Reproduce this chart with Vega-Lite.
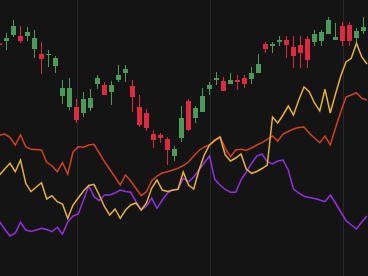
{
  "$schema": "https://vega.github.io/schema/vega-lite/v6.json",
  "width": 368,
  "height": 276,
  "padding": 0,
  "autosize": {"type": "none"},
  "background": "#141414",
  "config": {"view": {"stroke": null}},
  "datasets": {
    "grid": [{"t": 11.14}, {"t": 30.14}, {"t": 49.14}],
    "candles": [
      {"t":0,"open":232.5,"close":231,"high":232.5,"low":231},
      {"t":1,"open":235,"close":238,"high":243,"low":226},
      {"t":2,"open":241,"close":250,"high":256,"low":239},
      {"t":3,"open":240,"close":235,"high":250,"low":233},
      {"t":4,"open":240,"close":244,"high":249,"low":235},
      {"t":5,"open":227,"close":238,"high":246,"low":218},
      {"t":6,"open":222,"close":217,"high":234,"low":202},
      {"t":7,"open":221,"close":222,"high":226,"low":209},
      {"t":8,"open":210,"close":218,"high":220,"low":203},
      {"t":9,"open":180,"close":188,"high":196,"low":172},
      {"t":10,"open":169,"close":188,"high":198,"low":166},
      {"t":11,"open":169,"close":156,"high":177,"low":153},
      {"t":12,"open":163,"close":177,"high":184,"low":159},
      {"t":13,"open":168,"close":178,"high":187,"low":165},
      {"t":14,"open":192,"close":198,"high":201,"low":187},
      {"t":15,"open":191,"close":181,"high":194,"low":181},
      {"t":16,"open":184,"close":191,"high":195,"low":171},
      {"t":17,"open":196,"close":201,"high":211,"low":194},
      {"t":18,"open":203,"close":207,"high":211,"low":194},
      {"t":19,"open":190,"close":179,"high":196,"low":164},
      {"t":20,"open":169,"close":151,"high":181,"low":149},
      {"t":21,"open":163,"close":148,"high":167,"low":145},
      {"t":22,"open":142,"close":136,"high":146,"low":128},
      {"t":23,"open":141,"close":138,"high":143,"low":133},
      {"t":24,"open":137,"close":126,"high":139,"low":111},
      {"t":25,"open":120,"close":127,"high":130,"low":115},
      {"t":26,"open":138,"close":158,"high":170,"low":134},
      {"t":27,"open":175,"close":146,"high":177,"low":145},
      {"t":28,"open":158,"close":168,"high":170,"low":153},
      {"t":29,"open":164,"close":180,"high":188,"low":164},
      {"t":30,"open":187,"close":191,"high":194,"low":181},
      {"t":31,"open":196,"close":198,"high":204,"low":191},
      {"t":32,"open":195,"close":185,"high":199,"low":185},
      {"t":33,"open":192,"close":196,"high":203,"low":192},
      {"t":34,"open":196,"close":194,"high":201,"low":186},
      {"t":35,"open":198,"close":192,"high":201,"low":188},
      {"t":36,"open":197,"close":203,"high":209,"low":192},
      {"t":37,"open":203,"close":212,"high":222,"low":203},
      {"t":38,"open":232,"close":227,"high":234,"low":223},
      {"t":39,"open":230,"close":232,"high":234,"low":223},
      {"t":40,"open":234,"close":236,"high":240,"low":230},
      {"t":41,"open":236,"close":231,"high":240,"low":218},
      {"t":42,"open":229,"close":220,"high":240,"low":208},
      {"t":43,"open":231,"close":223,"high":240,"low":208},
      {"t":44,"open":237,"close":216,"high":240,"low":208},
      {"t":45,"open":234,"close":242,"high":246,"low":230},
      {"t":46,"open":235,"close":244,"high":246,"low":230},
      {"t":47,"open":242,"close":256,"high":259,"low":242},
      {"t":48,"open":236,"close":239,"high":253,"low":236},
      {"t":49,"open":250,"close":235,"high":254,"low":230},
      {"t":50,"open":251,"close":235,"high":254,"low":230},
      {"t":51,"open":238,"close":245,"high":248,"low":233},
      {"t":52,"open":245,"close":249,"high":259,"low":242}
    ],
    "lines": [
      {"t":0,"a":141,"b":101,"c":54.3},
      {"t":0.75,"a":142,"b":107,"c":46.7},
      {"t":1.5,"a":138.7,"b":112.7,"c":40},
      {"t":2.25,"a":131,"b":104.3,"c":43},
      {"t":3,"a":141,"b":116,"c":53.7},
      {"t":3.75,"a":129.3,"b":92.7,"c":46},
      {"t":4.5,"a":126.7,"b":84.3,"c":44.5},
      {"t":5.25,"a":126.5,"b":89,"c":46},
      {"t":6,"a":126,"b":93.3,"c":47.7},
      {"t":6.75,"a":113.7,"b":77,"c":46.5},
      {"t":7.5,"a":110.3,"b":80.3,"c":44.3},
      {"t":8.25,"a":104.3,"b":74.3,"c":48.7},
      {"t":9,"a":113.3,"b":72,"c":42},
      {"t":9.75,"a":101.7,"b":57.7,"c":54},
      {"t":10.5,"a":124,"b":71,"c":60},
      {"t":11.25,"a":129.3,"b":78,"c":62},
      {"t":12,"a":128.7,"b":85,"c":76},
      {"t":12.75,"a":131,"b":90.5,"c":90},
      {"t":13.5,"a":131.7,"b":91.7,"c":79.3},
      {"t":14.25,"a":123,"b":81,"c":75.3},
      {"t":15,"a":114.3,"b":69.3,"c":81},
      {"t":15.75,"a":106.7,"b":61,"c":81},
      {"t":16.5,"a":99,"b":67,"c":83},
      {"t":17.25,"a":91,"b":57.7,"c":86},
      {"t":18,"a":101,"b":66,"c":84.5},
      {"t":18.75,"a":95,"b":71,"c":83.7},
      {"t":19.5,"a":87.7,"b":73,"c":74.3},
      {"t":20.25,"a":80.3,"b":66,"c":66},
      {"t":21,"a":84.3,"b":73,"c":70},
      {"t":21.75,"a":95.3,"b":88,"c":77.7},
      {"t":22.5,"a":100,"b":96,"c":67.7},
      {"t":23.25,"a":103,"b":86,"c":76},
      {"t":24,"a":104.3,"b":84.5,"c":83},
      {"t":24.75,"a":106,"b":86,"c":86},
      {"t":25.5,"a":107.7,"b":86.7,"c":86.7},
      {"t":26.25,"a":110.5,"b":104,"c":97.7},
      {"t":27,"a":114,"b":91,"c":94.3},
      {"t":27.75,"a":120,"b":87,"c":99},
      {"t":28.5,"a":125.5,"b":106,"c":106},
      {"t":29.25,"a":129,"b":121,"c":113},
      {"t":30,"a":131,"b":131,"c":120},
      {"t":30.75,"a":135,"b":136,"c":96.7},
      {"t":31.5,"a":139.3,"b":139,"c":91},
      {"t":32.25,"a":127.7,"b":121,"c":86.5},
      {"t":33,"a":119.3,"b":115,"c":83.7},
      {"t":33.75,"a":126,"b":118,"c":83.7},
      {"t":34.5,"a":126.7,"b":122,"c":96},
      {"t":35.25,"a":125.5,"b":107,"c":104},
      {"t":36,"a":128,"b":102.7,"c":112.7},
      {"t":36.75,"a":131,"b":104.5,"c":120},
      {"t":37.5,"a":133.3,"b":107.5,"c":122},
      {"t":38.25,"a":136.7,"b":111,"c":114.3},
      {"t":39,"a":140,"b":159,"c":112},
      {"t":39.75,"a":135,"b":153,"c":115},
      {"t":40.5,"a":142,"b":161,"c":116},
      {"t":41.25,"a":144.5,"b":170,"c":106},
      {"t":42,"a":147,"b":161,"c":87},
      {"t":42.75,"a":148.5,"b":176,"c":83},
      {"t":43.5,"a":149,"b":189,"c":79.7},
      {"t":44.25,"a":142.7,"b":184.3,"c":78.5},
      {"t":45,"a":138,"b":173,"c":77.5},
      {"t":45.75,"a":133.3,"b":165,"c":76},
      {"t":46.5,"a":140,"b":186.7,"c":74.3},
      {"t":47.25,"a":131,"b":163,"c":81},
      {"t":48,"a":148,"b":182,"c":73},
      {"t":48.75,"a":164,"b":200,"c":64},
      {"t":49.5,"a":179,"b":214,"c":55.5},
      {"t":50.25,"a":181,"b":217.7,"c":51},
      {"t":51,"a":183.3,"b":232.7,"c":47},
      {"t":51.75,"a":177.7,"b":219,"c":54},
      {"t":52.5,"a":176,"b":212,"c":60}
    ]
  },
  "layer": [
    {
      "data": {"name": "grid"},
      "mark": {"type": "rule", "color": "#2a2a2a", "strokeWidth": 1},
      "encoding": {
        "x": {"field": "t", "type": "quantitative", "scale": {"domain": [0.0714, 52.643], "nice": false, "zero": false, "padding": 0}, "axis": null}
      }
    },
    {
      "data": {"name": "candles"},
      "mark": {"type": "rule", "strokeWidth": 1},
      "encoding": {
        "x": {"field": "t", "type": "quantitative"},
        "y": {"field": "low", "type": "quantitative", "scale": {"domain": [0, 276], "nice": false, "zero": false, "padding": 0}, "axis": null},
        "y2": {"field": "high"},
        "color": {"condition": {"test": "datum.close >= datum.open", "value": "#4c9a5a"}, "value": "#dc2a42"}
      }
    },
    {
      "data": {"name": "candles"},
      "mark": {"type": "bar", "width": 5},
      "encoding": {
        "x": {"field": "t", "type": "quantitative"},
        "y": {"field": "open", "type": "quantitative"},
        "y2": {"field": "close"},
        "color": {"condition": {"test": "datum.close >= datum.open", "value": "#4c9a5a"}, "value": "#dc2a42"}
      }
    },
    {
      "data": {"name": "lines"},
      "mark": {"type": "line", "color": "#9430e0", "strokeWidth": 1.5},
      "encoding": {
        "x": {"field": "t", "type": "quantitative"},
        "y": {"field": "c", "type": "quantitative"}
      }
    },
    {
      "data": {"name": "lines"},
      "mark": {"type": "line", "color": "#d4401e", "strokeWidth": 1.5},
      "encoding": {
        "x": {"field": "t", "type": "quantitative"},
        "y": {"field": "a", "type": "quantitative"}
      }
    },
    {
      "data": {"name": "lines"},
      "mark": {"type": "line", "color": "#e6b23a", "strokeWidth": 1.5},
      "encoding": {
        "x": {"field": "t", "type": "quantitative"},
        "y": {"field": "b", "type": "quantitative"}
      }
    }
  ]
}
